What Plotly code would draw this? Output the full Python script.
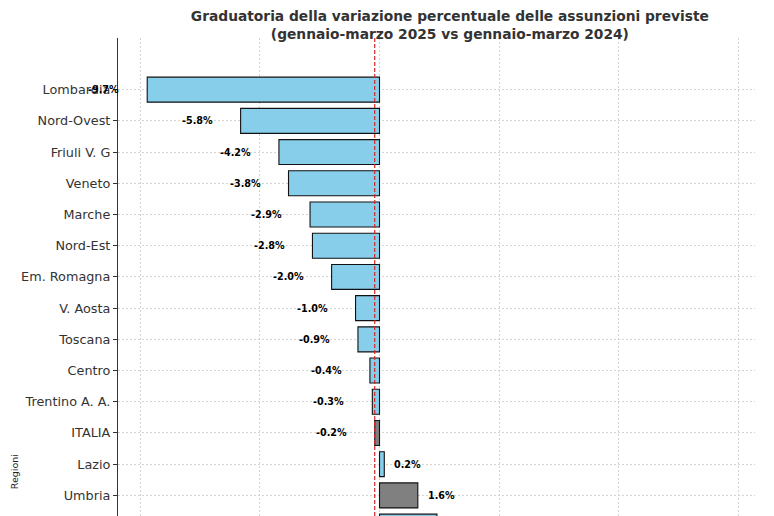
import plotly.graph_objects as go

regions = ["Lombardia", "Nord-Ovest", "Friuli V. G", "Veneto", "Marche", "Nord-Est",
           "Em. Romagna", "V. Aosta", "Toscana", "Centro", "Trentino A. A.", "ITALIA",
           "Lazio", "Umbria", " "]
values = [-9.7, -5.8, -4.2, -3.8, -2.9, -2.8, -2.0, -1.0, -0.9, -0.4, -0.3, -0.2, 0.2, 1.6, 2.4]
label_texts = ["-9.7%", "-5.8%", "-4.2%", "-3.8%", "-2.9%", "-2.8%", "-2.0%", "-1.0%",
               "-0.9%", "-0.4%", "-0.3%", "-0.2%", "0.2%", "1.6%", ""]
grey_regions = ["ITALIA", "Umbria"]
italia_value = -0.2
x_ticks = [-10, -5, 0, 5, 10, 15]

colors = ["#808080" if r in grey_regions else "#87CEEB" for r in regions]

fig = go.Figure()
fig.add_trace(go.Bar(
    x=values, y=regions, orientation="h", width=0.8,
    marker=dict(color=colors, line=dict(color="#111111", width=1.1)),
    showlegend=False,
))

for r, v, t in zip(regions, values, label_texts):
    if not t:
        continue
    if v < 0:
        fig.add_annotation(x=v - 1.08, y=r, text=t, showarrow=False, xanchor="right",
                           yanchor="middle",
                           font=dict(family="DejaVu Sans", size=9.6, color="#000", weight="bold"))
    else:
        fig.add_annotation(x=v + 0.33, y=r, text=t, showarrow=False, xanchor="left",
                           yanchor="middle",
                           font=dict(family="DejaVu Sans", size=9.6, color="#000", weight="bold"))

fig.add_shape(type="line", x0=italia_value, x1=italia_value, xref="x", yref="paper",
              y0=0, y1=1, line=dict(color="#d62728", width=1.2, dash="4px,2px"), layer="above")

fig.add_annotation(text="Regioni", xref="paper", yref="paper", x=-0.163, y=0.092,
                   xanchor="center", yanchor="middle", textangle=-90, showarrow=False,
                   font=dict(family="DejaVu Sans", size=9.5, color="#222"))

fig.update_layout(
    width=774, height=516,
    margin=dict(l=118, r=19, t=38, b=0),
    paper_bgcolor="white", plot_bgcolor="white",
    title=dict(text="Graduatoria della variazione percentuale delle assunzioni previste<br>(gennaio-marzo 2025 vs gennaio-marzo 2024)",
               x=0.521, xref="paper", y=0.959, yref="container", yanchor="middle",
               font=dict(family="DejaVu Sans", size=13.8, color="#333", weight="bold")),
    xaxis=dict(range=[-10.92, 15.68], tickvals=x_ticks, showticklabels=False,
               showgrid=True, gridcolor="#d4d4d4", gridwidth=0.8, griddash="2px,2px",
               zeroline=False, showline=False),
    yaxis=dict(type="category", categoryorder="array", categoryarray=regions,
               range=[13.66, -1.655], showgrid=True, gridcolor="#d4d4d4", gridwidth=0.8,
               griddash="2px,2px", showline=True, linecolor="#333", linewidth=1.2,
               ticks="outside", ticklen=4, tickcolor="#333",
               tickfont=dict(family="DejaVu Sans", size=12.8, color="#333"), zeroline=False),
    font=dict(family="DejaVu Sans"),
)

fig.write_html("out.html")
